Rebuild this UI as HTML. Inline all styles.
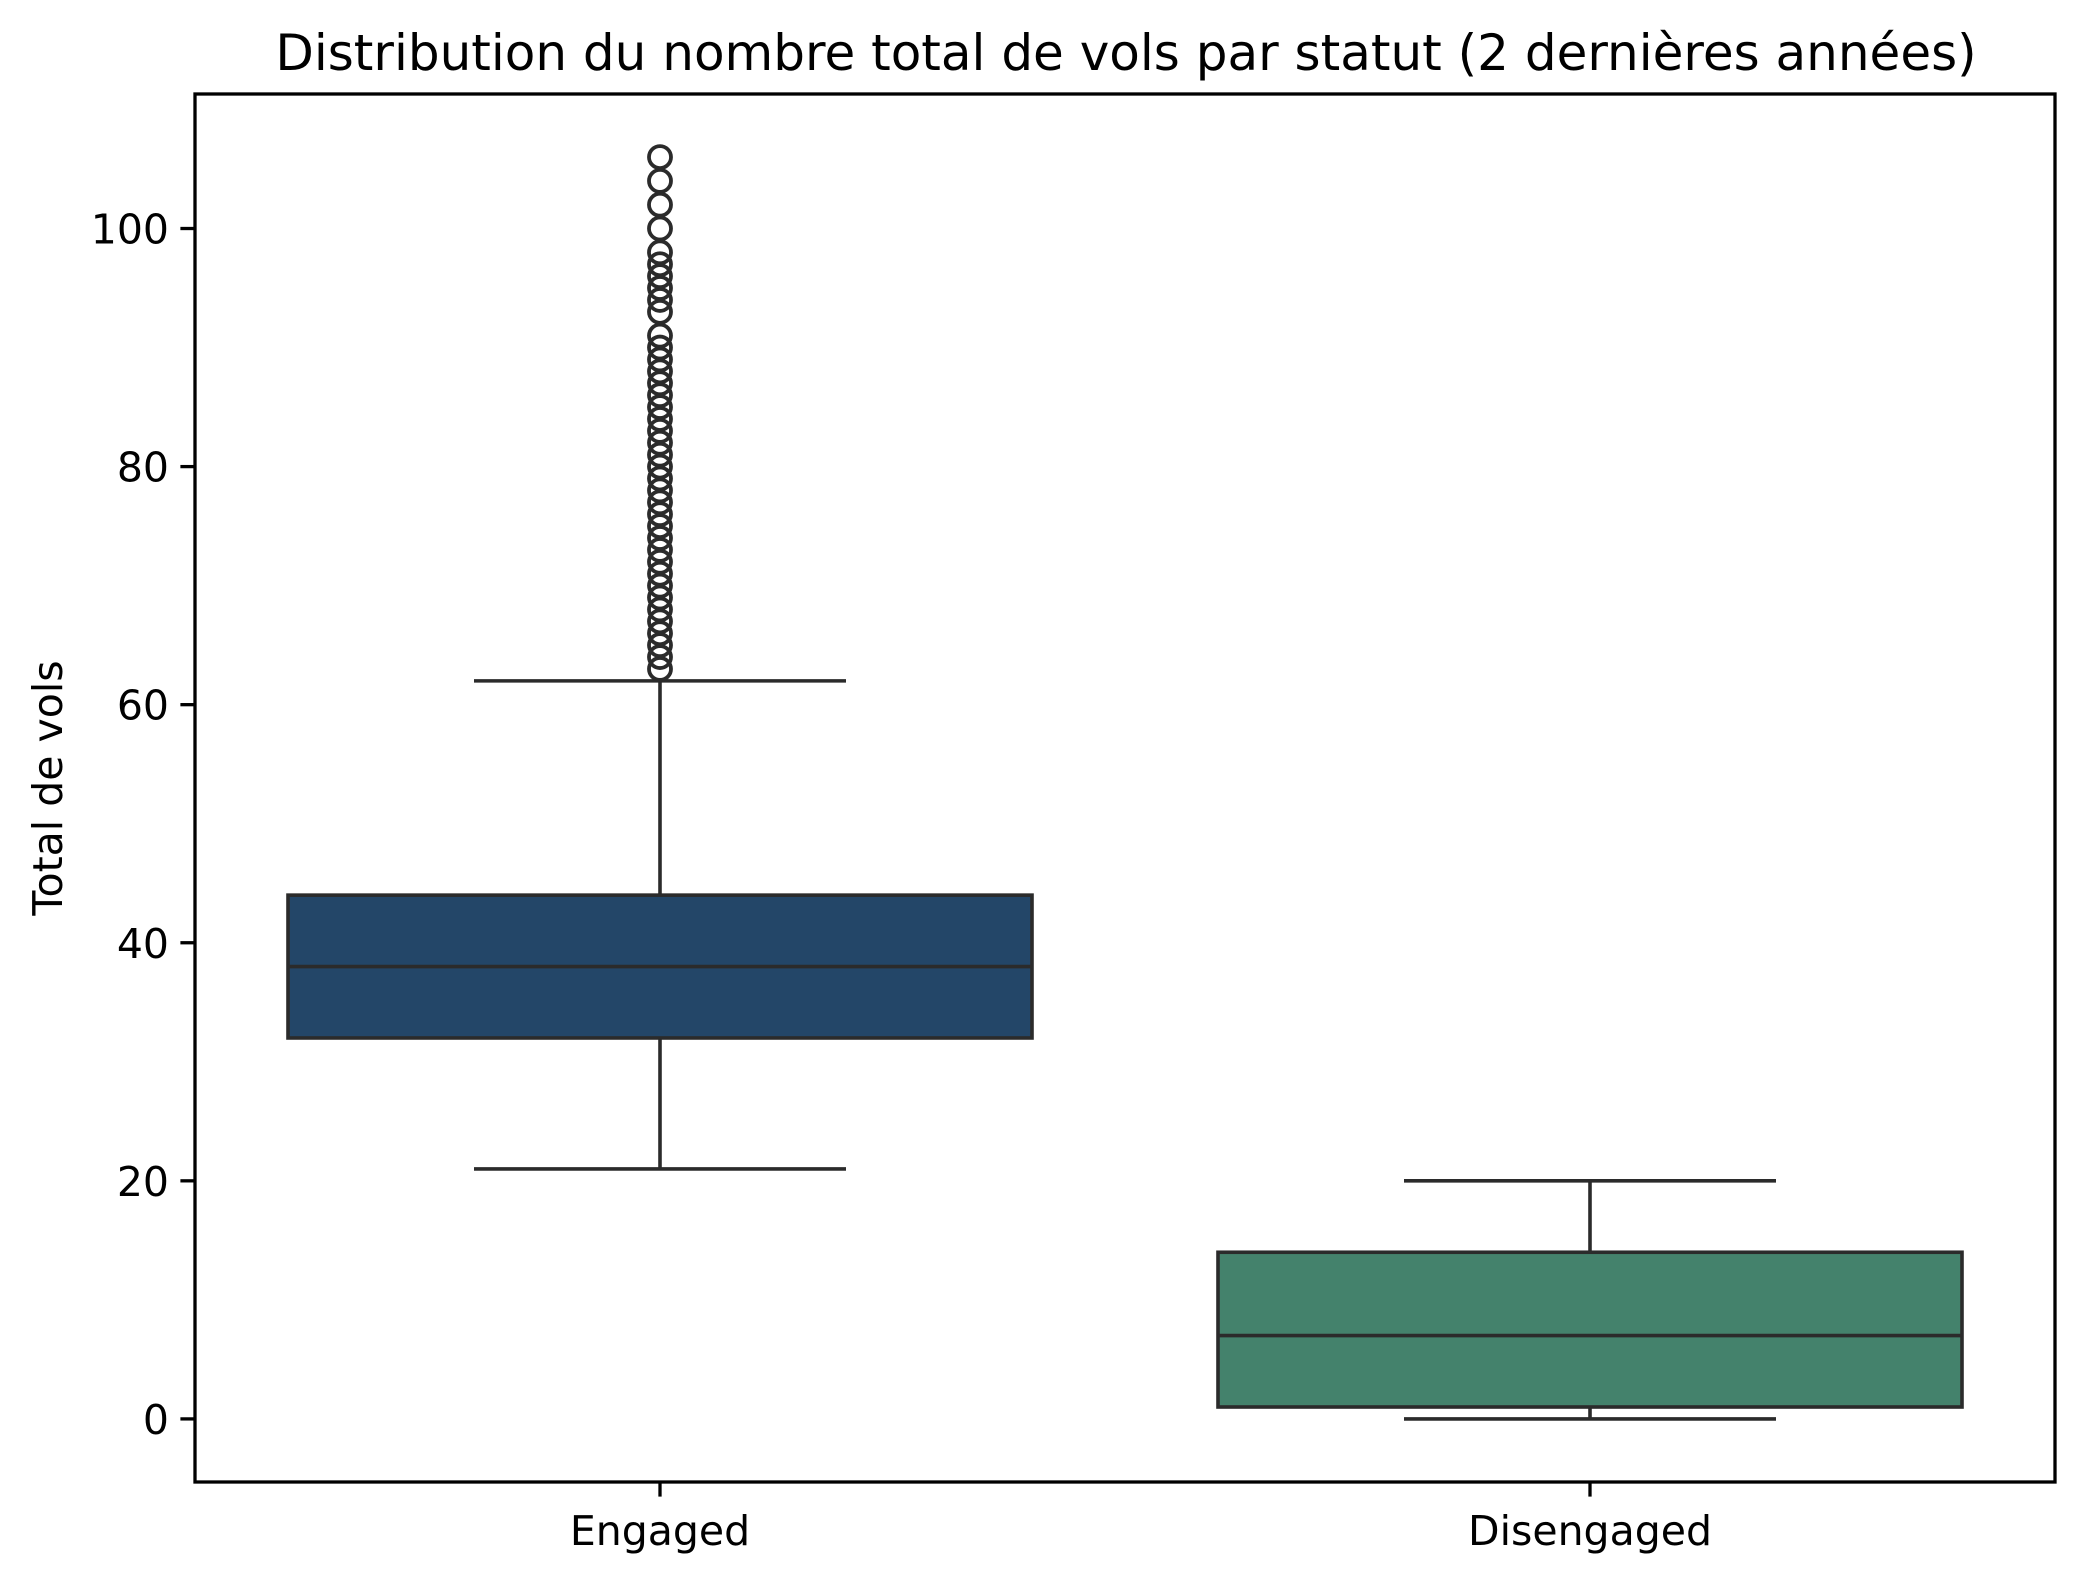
<!DOCTYPE html>
<html><head><meta charset="utf-8"><style>
html,body{margin:0;padding:0;background:#fff;}
svg{display:block;font-family:"DejaVu Sans","Liberation Sans",sans-serif;}
</style></head><body>
<svg id="chart" width="2085" height="1580" viewBox="0 0 2085 1580" xmlns="http://www.w3.org/2000/svg">
<rect x="0" y="0" width="2085" height="1580" fill="#fff"/>
<text x="1126" y="70" font-size="50" text-anchor="middle" fill="#000">Distribution du nombre total de vols par statut (2 dernières années)</text>
<text x="0" y="0" font-size="41" text-anchor="middle" fill="#000" transform="translate(62,788) rotate(-90)">Total de vols</text>
<g id="plot"></g>
</svg>
<script>
const categories = ['Engaged', 'Disengaged'];
const q1Values = [32, 1];
const medianValues = [38, 7];
const q3Values = [44, 14];
const whiskerLow = [21, 0];
const whiskerHigh = [62, 20];
const engagedOutliers = [63,64,65,66,67,68,69,70,71,72,73,74,75,76,77,78,79,80,81,82,83,84,85,86,87,88,89,90,91,93,94,95,96,97,98,100,102,104,106];
const disengagedOutliers = [];
const yTicks = [0, 20, 40, 60, 80, 100];
const fillColors = ['#234668', '#44826c'];

const L = 195, R = 2055, T = 94, B = 1482;
const yMin = -5.3, yMax = 111.3;
const xMin = -0.5, xMax = 1.5;
const x = v => L + (v - xMin) / (xMax - xMin) * (R - L);
const y = v => B - (v - yMin) / (yMax - yMin) * (B - T);
const NS = 'http://www.w3.org/2000/svg';
const plot = document.getElementById('plot');
function mk(tag, attrs, parent) {
  const e = document.createElementNS(NS, tag);
  for (const k in attrs) e.setAttribute(k, attrs[k]);
  (parent || plot).appendChild(e);
  return e;
}
const lc = '#2b2b2b', lw = 3.6;
const unit = (R - L) / (xMax - xMin);
const outliers = [engagedOutliers, disengagedOutliers];

categories.forEach((c, i) => {
  const cx = x(i);
  const g = mk('g', {});
  
  
  const hw = 0.4 * unit, cw = 0.2 * unit;
  let e;
  e = mk('line', {x1: cx, x2: cx, y1: y(q3Values[i]), y2: y(whiskerHigh[i]), stroke: lc, 'stroke-width': lw}, g);
  
  
  e = mk('line', {x1: cx, x2: cx, y1: y(q1Values[i]), y2: y(whiskerLow[i]), stroke: lc, 'stroke-width': lw}, g);
  
  
  e = mk('line', {x1: cx - cw, x2: cx + cw, y1: y(whiskerHigh[i]), y2: y(whiskerHigh[i]), stroke: lc, 'stroke-width': lw}, g);
  
  
  e = mk('line', {x1: cx - cw, x2: cx + cw, y1: y(whiskerLow[i]), y2: y(whiskerLow[i]), stroke: lc, 'stroke-width': lw}, g);
  
  
  e = mk('rect', {x: cx - hw, y: y(q3Values[i]), width: 2 * hw, height: y(q1Values[i]) - y(q3Values[i]), fill: fillColors[i], stroke: lc, 'stroke-width': lw}, g);
  
  
  e = mk('line', {x1: cx - hw, x2: cx + hw, y1: y(medianValues[i]), y2: y(medianValues[i]), stroke: lc, 'stroke-width': lw}, g);
  
  
  outliers[i].forEach(v => {
    const o = mk('circle', {cx: cx, cy: y(v), r: 11, fill: 'none', stroke: lc, 'stroke-width': 3.8}, g);
    
    
  });
  const t = mk('line', {x1: cx, x2: cx, y1: B, y2: B + 14.6, stroke: '#000', 'stroke-width': 3.3});
  
  
  const tl = mk('text', {x: cx, y: 1545, 'font-size': 41, 'text-anchor': 'middle', fill: '#000'});
  
  
  tl.textContent = c;
});

yTicks.forEach(v => {
  const t = mk('line', {x1: L - 14.6, x2: L, y1: y(v), y2: y(v), stroke: '#000', 'stroke-width': 3.3});
  
  
  const tl = mk('text', {x: L - 26, y: y(v) + 15, 'font-size': 41, 'text-anchor': 'end', fill: '#000'});
  
  
  tl.textContent = v;
});

const frame = mk('rect', {x: L, y: T, width: R - L, height: B - T, fill: 'none', stroke: '#000', 'stroke-width': 3.3});


</script>
</body></html>
